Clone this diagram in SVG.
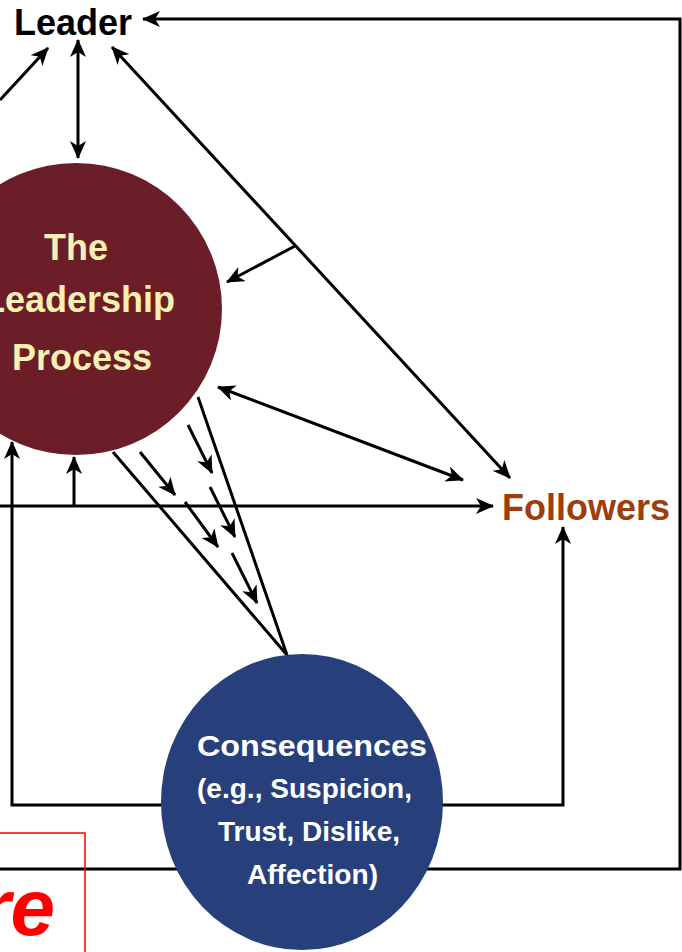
<svg xmlns="http://www.w3.org/2000/svg" width="682" height="952" viewBox="0 0 682 952">
<style>
.ln{fill:none;stroke:#000;stroke-width:3}
.fr{fill:none;stroke:#000;stroke-width:3}
.t{font-family:"Liberation Sans",Arial,sans-serif;font-weight:bold}
</style>
<defs>
<marker id="ah" viewBox="0 0 18 16" refX="17" refY="8" markerWidth="18" markerHeight="16" markerUnits="userSpaceOnUse" orient="auto-start-reverse">
<path d="M0,0 L18,8 L0,16 L5,8 z" fill="#000"/>
</marker>
</defs>
<rect width="682" height="952" fill="#fff"/>
<g id="connectors">
<path class="fr" d="M0,869 L680,869 L680,19 L143,19" marker-end="url(#ah)"/>
<path class="fr" d="M12,442 L12,805 L563,805 L563,527" marker-start="url(#ah)" marker-end="url(#ah)"/>
<path class="ln" d="M0,100 L48,48" marker-end="url(#ah)"/>
<path class="ln" d="M78,40 L78,158" marker-start="url(#ah)" marker-end="url(#ah)"/>
<path class="ln" d="M112,47 L510,478" marker-start="url(#ah)" marker-end="url(#ah)"/>
<path class="ln" d="M295,246 L227,282" marker-end="url(#ah)"/>
<path class="ln" d="M218,387 L463,480" marker-start="url(#ah)" marker-end="url(#ah)"/>
<path class="ln" d="M0,506 L493,506" marker-end="url(#ah)"/>
<path class="ln" d="M74,506 L74,457" marker-end="url(#ah)"/>
<path class="ln" d="M113,452 L287,655 L198,397"/>
<path class="ln" d="M188,425 L212,473" marker-end="url(#ah)"/>
<path class="ln" d="M210,487 L235,537" marker-end="url(#ah)"/>
<path class="ln" d="M232,553 L257,603" marker-end="url(#ah)"/>
<path class="ln" d="M140,452 L175,495" marker-end="url(#ah)"/>
<path class="ln" d="M185,502 L218,547" marker-end="url(#ah)"/>
</g>
<g id="leader">
<text class="t" x="14" y="35" font-size="36" fill="#000">Leader</text>
</g>
<g id="process">
<circle cx="76" cy="309" r="146" fill="#6b1d28"/>
<text class="t" font-size="36" fill="#f6f0b4" text-anchor="middle">
<tspan x="81" y="260">The</tspan>
<tspan x="84" y="312">Leadership</tspan>
<tspan x="82" y="370">Process</tspan>
</text>
</g>
<g id="followers">
<text class="t" x="502" y="520" font-size="36" fill="#9e3e0c">Followers</text>
</g>
<g id="consequences">
<ellipse cx="302" cy="802" rx="141" ry="148" fill="#27407b"/>
<text class="t" x="197" y="756" font-size="30" fill="#fff" textLength="230" lengthAdjust="spacingAndGlyphs">Consequences</text>
<text class="t" x="197" y="798" font-size="28" fill="#fff" textLength="215" lengthAdjust="spacingAndGlyphs">(e.g., Suspicion,</text>
<text class="t" x="218" y="841" font-size="28" fill="#fff" textLength="182" lengthAdjust="spacingAndGlyphs">Trust, Dislike,</text>
<text class="t" x="247" y="884" font-size="28" fill="#fff" textLength="131" lengthAdjust="spacingAndGlyphs">Affection)</text>
</g>
<g id="annotation">
<rect x="-2" y="833" width="87" height="125" fill="none" stroke="#ff0000" stroke-width="1.5"/>
<text x="55" y="935" font-size="80" font-family="'Liberation Sans',Arial,sans-serif" font-weight="bold" font-style="italic" fill="#ff0000" text-anchor="end">re</text>
</g>
</svg>
